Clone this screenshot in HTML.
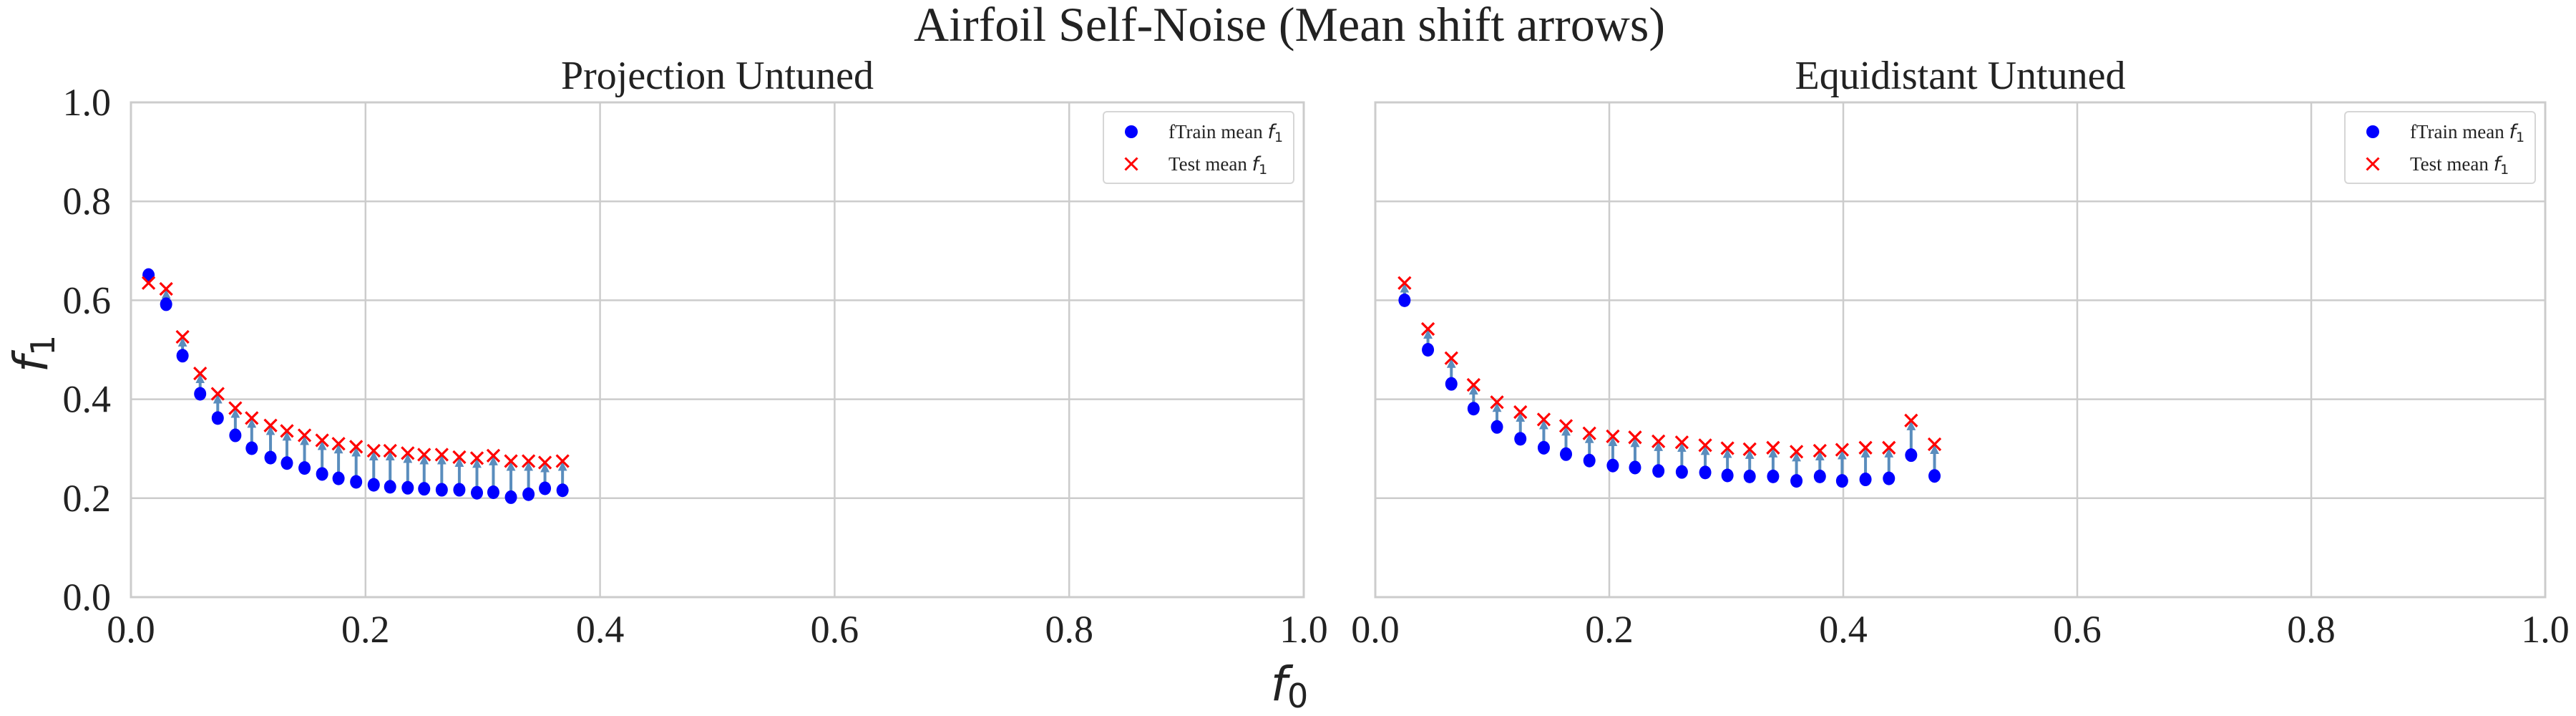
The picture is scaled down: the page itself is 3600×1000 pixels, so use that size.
<!DOCTYPE html>
<html><head><meta charset="utf-8">
<style>
html,body{margin:0;padding:0;background:#fff;}
svg{display:block;font-family:"Liberation Serif",serif;}
</style></head>
<body>
<svg id="chart" width="3600" height="1000" viewBox="0 0 3600 1000" xmlns="http://www.w3.org/2000/svg">
<defs>
<marker id="ah" viewBox="0 0 10 10" refX="9" refY="5" markerWidth="3.2" markerHeight="3.2" orient="auto"><path d="M0,0 L10,5 L0,10 z" fill="#5a8dbd"/></marker>
</defs>
<text x="1802" y="57" font-size="68" text-anchor="middle" fill="#222">Airfoil Self-Noise (Mean shift arrows)</text>
<text x="1802" y="978" font-size="66" font-style="italic" font-family="DejaVu Sans, sans-serif" text-anchor="middle" fill="#222">f<tspan font-size="46" dy="10" font-style="normal">0</tspan></text>
<text transform="translate(66,494) rotate(-90)" font-size="66" font-style="italic" font-family="DejaVu Sans, sans-serif" text-anchor="middle" fill="#222">f<tspan font-size="46" dy="10" font-style="normal">1</tspan></text>
<g id="p1"></g>
<g id="p2"></g>
</svg>
<script>
const ticks = [0, 0.2, 0.4, 0.6, 0.8, 1.0];
const tickLabels = ["0.0", "0.2", "0.4", "0.6", "0.8", "1.0"];
const panelTitles = ["Projection Untuned", "Equidistant Untuned"];
const projF0 = [0.015,0.030,0.044,0.059,0.074,0.089,0.103,0.119,0.133,0.148,0.163,0.177,0.192,0.207,0.221,0.236,0.250,0.265,0.280,0.295,0.309,0.324,0.339,0.353,0.368];
const projTrain = [0.651,0.592,0.488,0.411,0.362,0.327,0.301,0.282,0.271,0.261,0.249,0.240,0.233,0.227,0.223,0.221,0.219,0.217,0.217,0.211,0.212,0.202,0.208,0.220,0.216];
const projTest = [0.635,0.623,0.526,0.452,0.411,0.382,0.362,0.347,0.336,0.327,0.317,0.310,0.304,0.296,0.296,0.291,0.288,0.288,0.283,0.281,0.286,0.275,0.275,0.272,0.275];
const equiF0 = [0.025,0.045,0.065,0.084,0.104,0.124,0.144,0.163,0.183,0.203,0.222,0.242,0.262,0.282,0.301,0.320,0.340,0.360,0.380,0.399,0.419,0.439,0.458,0.478];
const equiTrain = [0.600,0.500,0.431,0.381,0.344,0.320,0.302,0.289,0.276,0.266,0.262,0.255,0.253,0.252,0.246,0.244,0.244,0.235,0.244,0.235,0.238,0.240,0.287,0.245];
const equiTest = [0.635,0.542,0.483,0.429,0.394,0.374,0.359,0.346,0.331,0.325,0.323,0.315,0.313,0.307,0.301,0.299,0.302,0.294,0.296,0.298,0.302,0.302,0.357,0.309];

const NS = "http://www.w3.org/2000/svg";
function mk(parent, tag, attrs, text){
  const e = document.createElementNS(NS, tag);
  for (const k in attrs) e.setAttribute(k, attrs[k]);
  if (text !== undefined) e.textContent = text;
  parent.appendChild(e);
  return e;
}
function drawPanel(g, left, right, title, f0, train, test){
  const top = 143, bottom = 834;
  const sx = v => left + v * (right - left);
  const sy = v => bottom - v * (bottom - top);
  const t = mk(g, "text", {x:(left+right)/2, y:124, "font-size":56, "text-anchor":"middle", fill:"#222"}, title);
  
  
  ticks.forEach((v, i) => {
    const gx = mk(g, "line", {x1:sx(v), x2:sx(v), y1:top, y2:bottom, stroke:"#cccccc", "stroke-width":2.5});
    
    
    const gy = mk(g, "line", {x1:left, x2:right, y1:sy(v), y2:sy(v), stroke:"#cccccc", "stroke-width":2.5});
    
    
    const xl = mk(g, "text", {x:sx(v), y:897, "font-size":54, "text-anchor":"middle", fill:"#222"}, tickLabels[i]);
    
    
    if (left < 1000) {
      const yl = mk(g, "text", {x:left - 28, y:sy(v) + 18, "font-size":54, "text-anchor":"end", fill:"#222"}, tickLabels[i]);
      
      
    }
  });
  const frame = mk(g, "rect", {x:left, y:top, width:right-left, height:bottom-top, fill:"none", stroke:"#cccccc", "stroke-width":3});
  
  
  for (let i = 0; i < f0.length; i++) {
    const x = sx(f0[i]), y0 = sy(train[i]), y1 = sy(test[i]);
    const dir = y1 < y0 ? 1 : -1;
    const a = mk(g, "line", {x1:x, y1:y0, x2:x, y2:y1 + dir*2, stroke:"#5a8dbd", "stroke-width":4, "marker-end":"url(#ah)"});
    
    
  }
  for (let i = 0; i < f0.length; i++) {
    const c = mk(g, "ellipse", {cx:sx(f0[i]), cy:sy(train[i]), rx:8.5, ry:9.5, fill:"#0000ff"});
    
    
  }
  for (let i = 0; i < f0.length; i++) {
    const x = sx(f0[i]), y = sy(test[i]), s = 8.5;
    const p = mk(g, "path", {d:`M${x-s},${y-s}L${x+s},${y+s}M${x-s},${y+s}L${x+s},${y-s}`, stroke:"#ff0000", "stroke-width":3.2, fill:"none"});
    
    
  }
  const lx = right - 280, ly = 156;
  const lg = mk(g, "g", {});
  
  
  mk(lg, "rect", {x:lx, y:ly, width:266, height:100, rx:5, fill:"#fff", stroke:"#d6d6d6", "stroke-width":2});
  const d = mk(lg, "circle", {cx:lx+39, cy:ly+28, r:9, fill:"#0000ff"});
  
  
  const cx = lx+39, cy = ly+73, s = 8.5;
  const cr = mk(lg, "path", {d:`M${cx-s},${cy-s}L${cx+s},${cy+s}M${cx-s},${cy+s}L${cx+s},${cy-s}`, stroke:"#ff0000", "stroke-width":3, fill:"none"});
  
  
  const t1 = mk(lg, "text", {x:lx+91, y:ly+37, "font-size":27, fill:"#222"});
  t1.innerHTML = 'fTrain mean <tspan font-style="italic" font-family="DejaVu Sans, sans-serif">f</tspan><tspan font-size="19" dy="5" font-family="DejaVu Sans, sans-serif">1</tspan>';
  
  
  const t2 = mk(lg, "text", {x:lx+91, y:ly+82, "font-size":27, fill:"#222"});
  t2.innerHTML = 'Test mean <tspan font-style="italic" font-family="DejaVu Sans, sans-serif">f</tspan><tspan font-size="19" dy="5" font-family="DejaVu Sans, sans-serif">1</tspan>';
  
  
}
drawPanel(document.getElementById("p1"), 183, 1822, panelTitles[0], projF0, projTrain, projTest);
drawPanel(document.getElementById("p2"), 1922, 3557, panelTitles[1], equiF0, equiTrain, equiTest);
</script>
</body></html>
